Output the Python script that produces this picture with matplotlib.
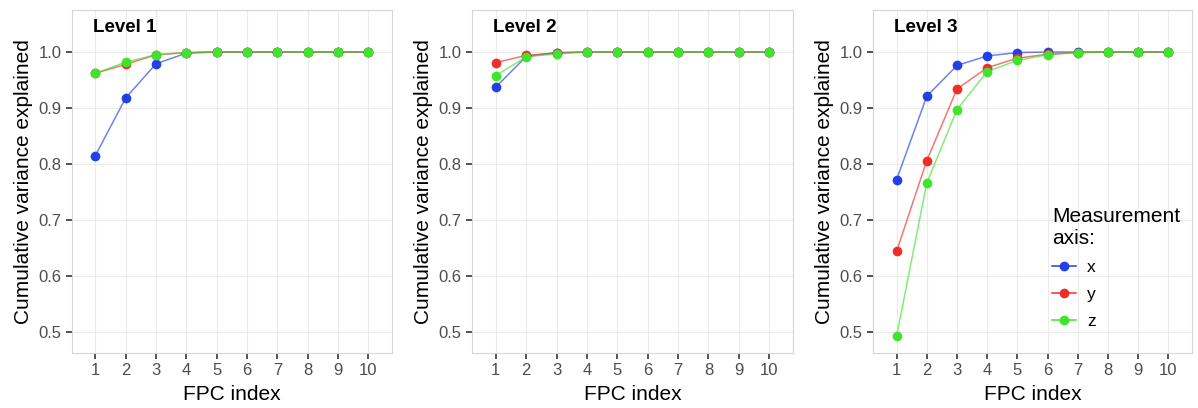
import matplotlib.pyplot as plt

plt.rcParams["font.family"] = ["Liberation Sans", "DejaVu Sans"]

fpc = list(range(1, 11))
axes_names = ["x", "y", "z"]
colors = {"x": "#2140e6", "y": "#ee2f25", "z": "#3fe42c"}

# cumulative variance explained, per level and measurement axis
level1 = {
    "x": [0.815, 0.918, 0.979, 0.998, 1.0, 1.0, 1.0, 1.0, 1.0, 1.0],
    "y": [0.962, 0.978, 0.995, 0.999, 1.0, 1.0, 1.0, 1.0, 1.0, 1.0],
    "z": [0.962, 0.982, 0.995, 0.999, 1.0, 1.0, 1.0, 1.0, 1.0, 1.0],
}
level2 = {
    "x": [0.937, 0.992, 0.999, 1.0, 1.0, 1.0, 1.0, 1.0, 1.0, 1.0],
    "y": [0.981, 0.994, 0.998, 1.0, 1.0, 1.0, 1.0, 1.0, 1.0, 1.0],
    "z": [0.958, 0.991, 0.997, 1.0, 1.0, 1.0, 1.0, 1.0, 1.0, 1.0],
}
level3 = {
    "x": [0.772, 0.921, 0.976, 0.993, 0.999, 1.0, 1.0, 1.0, 1.0, 1.0],
    "y": [0.644, 0.806, 0.934, 0.972, 0.989, 0.996, 0.999, 1.0, 1.0, 1.0],
    "z": [0.492, 0.766, 0.897, 0.965, 0.985, 0.995, 0.999, 1.0, 1.0, 1.0],
}
levels = [("Level 1", level1), ("Level 2", level2), ("Level 3", level3)]

W, H = 1198, 408
fig = plt.figure(figsize=(W / 100, H / 100), dpi=100)

# panel frames in pixels: left, right
frames = [(71.7, 392), (472, 793), (873, 1192)]
top_px, bottom_px = 10, 353

for (title, data), (l, r) in zip(levels, frames):
    ax = fig.add_axes([l / W, (H - bottom_px) / H, (r - l) / W, (bottom_px - top_px) / H])
    for name in axes_names:
        ax.plot(fpc, data[name], color=colors[name], lw=1.1, alpha=0.65, zorder=2)
        ax.plot(fpc, data[name], "o", color=colors[name], ms=7, mec="none", zorder=3)
    ax.set_xlim(0.22, 10.78)
    ax.set_ylim(0.4625, 1.075)
    ax.set_xticks(fpc)
    ax.set_yticks([0.5, 0.6, 0.7, 0.8, 0.9, 1.0])
    ax.set_yticklabels(["0.5", "0.6", "0.7", "0.8", "0.9", "1.0"])
    ax.grid(True, color="#ebebeb", lw=0.8, zorder=0)
    ax.set_axisbelow(True)
    for s in ax.spines.values():
        s.set_color("#d6d6d6")
        s.set_linewidth(0.8)
    ax.tick_params(colors="#333333", labelcolor="#4d4d4d", labelsize=12,
                   length=4.5, width=1.2, pad=3)
    ax.set_xlabel("FPC index", fontsize=15, color="black", labelpad=4.5)
    ax.set_ylabel("Cumulative variance explained", fontsize=15, color="black", labelpad=4)
    ax.text(0.066, 0.936, title, transform=ax.transAxes, fontsize=13.5,
            fontweight="bold", va="baseline", ha="left")

    if title == "Level 3":
        handles = [plt.Line2D([], [], color=colors[n], lw=1.1, marker="o", ms=7,
                              mec="none") for n in axes_names]
        leg = ax.legend(handles, axes_names, title="Measurement\naxis:",
                        loc="upper left", bbox_to_anchor=(0.535, 0.45),
                        frameon=False, fontsize=12.5, title_fontsize=15,
                        borderpad=0, handlelength=1.35, handletextpad=0.65,
                        labelspacing=0.68, alignment="left")

fig.savefig("out.png", dpi=100)
